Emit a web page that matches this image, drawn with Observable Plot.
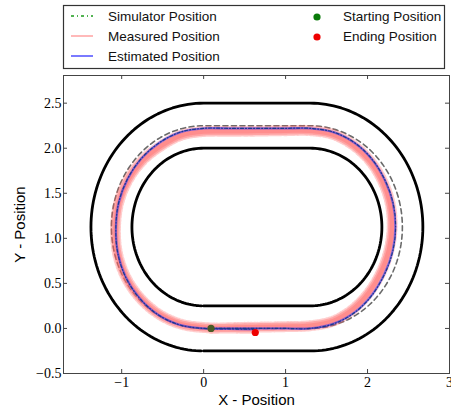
<!DOCTYPE html>
<html><head><meta charset="utf-8">
<script src="https://cdn.jsdelivr.net/npm/d3@7"></script>
<script src="https://cdn.jsdelivr.net/npm/@observablehq/plot@0.6"></script>
<style>
body{margin:0;background:#fff;}
#wrap{position:relative;width:451px;height:416px;overflow:hidden;}
#wrap svg{position:absolute;left:0;top:0;}
</style></head><body><div id="wrap"></div>
<script>
// ---------- data ----------
const xTicks = [-1, 0, 1, 2, 3];
const yTicks = [-0.5, 0, 0.5, 1, 1.5, 2, 2.5];
const xDomain = [-1.71, 3.0];
const yDomain = [-0.5, 2.807];
const xLabel = "X - Position";
const yLabel = "Y - Position";

// track geometry (stadium): arc centres, radii
const arcCentersX = [0, 1.3];
const arcCenterY = 1.125;
const outerRadius = 1.375;
const innerRadius = 0.875;
const centerRadius = 1.125;

// estimated position (blue)
const estimatedPosition = [
  [0.09, 0.0], [0.4, 0.0], [0.7, 0.0], [1.0, 0.0], [1.3, 0.0],
  [1.587, 0.053], [1.845, 0.181], [2.053, 0.372], [2.205, 0.603], [2.305, 0.856],
  [2.34, 1.125], [2.309, 1.395], [2.209, 1.65], [2.053, 1.878], [1.84, 2.06], [1.582, 2.178],
  [1.3, 2.22], [1.0, 2.22], [0.65, 2.22], [0.3, 2.22], [0.0, 2.22],
  [-0.282, 2.178], [-0.54, 2.06], [-0.76, 1.885], [-0.927, 1.66], [-1.034, 1.402],
  [-1.07, 1.125], [-1.048, 0.844], [-0.953, 0.575], [-0.785, 0.34], [-0.56, 0.155], [-0.291, 0.04],
  [0.0, 0.0], [0.3, -0.005], [0.62, -0.01]
];
// simulator position (green dash-dot, mostly under the estimate)
const simulatorPosition = [
  [0.09, 0.0], [0.4, 0.0], [0.7, 0.0], [1.0, 0.0], [1.3, 0.0],
  [1.588, 0.052], [1.847, 0.179], [2.055, 0.37], [2.207, 0.602], [2.307, 0.856],
  [2.342, 1.125], [2.31, 1.396], [2.21, 1.651], [2.054, 1.879], [1.841, 2.061], [1.582, 2.179],
  [1.3, 2.221], [1.0, 2.221], [0.65, 2.221], [0.3, 2.221], [0.0, 2.221],
  [-0.283, 2.179], [-0.541, 2.061], [-0.761, 1.886], [-0.928, 1.66], [-1.035, 1.402],
  [-1.071, 1.125], [-1.049, 0.843], [-0.954, 0.574], [-0.786, 0.339], [-0.56, 0.154], [-0.291, 0.039],
  [0.0, 0.0], [0.3, -0.005], [0.62, -0.01]
];
// measured position (pink band centre)
const measuredPosition = [
  [0.09, 0.0], [0.4, 0.01], [0.7, 0.015], [1.0, 0.02], [1.3, 0.03],
  [1.58, 0.082], [1.825, 0.216], [2.021, 0.404], [2.166, 0.625], [2.261, 0.868],
  [2.30, 1.125], [2.276, 1.386], [2.183, 1.635], [2.032, 1.857], [1.825, 2.034], [1.576, 2.154],
  [1.3, 2.195], [1.0, 2.195], [0.65, 2.19], [0.3, 2.188], [0.0, 2.185],
  [-0.273, 2.144], [-0.52, 2.026], [-0.742, 1.867], [-0.918, 1.655], [-1.034, 1.402],
  [-1.075, 1.125], [-1.053, 0.843], [-0.953, 0.575], [-0.781, 0.344], [-0.555, 0.164], [-0.288, 0.051],
  [0.0, 0.01], [0.3, 0.005], [0.63, 0.0]
];
const startPosition = [[0.09, 0.0]];
const endPosition = [[0.63, -0.045]];

const legendLines = ["Simulator Position", "Measured Position", "Estimated Position"];
const legendDots = ["Starting Position", "Ending Position"];

// ---------- geometry helper ----------
function trackLine(r, gapDeg) {
  const [cl, cr] = arcCentersX, cy = arcCenterY, rad = Math.PI / 180;
  const pts = [[cl, cy - r]];
  for (let a = -90; a <= 90; a += 2) pts.push([cr + r * Math.cos(a * rad), cy + r * Math.sin(a * rad)]);
  for (let a = 90; a <= 270 - gapDeg; a += 2) pts.push([cl + r * Math.cos(a * rad), cy + r * Math.sin(a * rad)]);
  const e = 270 - gapDeg;
  pts.push([cl + r * Math.cos(e * rad), cy + r * Math.sin(e * rad)]);
  return pts;
}
const outerTrack = trackLine(outerRadius, 1.3);
const innerTrack = trackLine(innerRadius, 1.8);
const centerTrack = trackLine(centerRadius, 0);

const W = 451, H = 416, mL = 63, mR = 2, mT = 75, mB = 43;
const frameW = W - mL - mR, frameH = H - mT - mB;
const X = d => d[0], Y = d => d[1];
const serif = "'Liberation Serif', 'DejaVu Serif', serif";
const sans = "'Liberation Sans', Arial, sans-serif";

const chart = Plot.plot({
  width: W, height: H,
  marginLeft: mL, marginRight: mR, marginTop: mT, marginBottom: mB,
  x: {domain: xDomain},
  y: {domain: yDomain},
  style: {background: "transparent", overflow: "visible"},
  marks: [
    Plot.line(outerTrack, {x: X, y: Y, stroke: "black", strokeWidth: 2.8, curve: "linear"}),
    Plot.line(innerTrack, {x: X, y: Y, stroke: "black", strokeWidth: 2.8, curve: "linear"}),
    Plot.line(centerTrack, {x: X, y: Y, stroke: "#6a6a6a", strokeWidth: 1.6, strokeDasharray: "5 3.5"}),
    // measured: noisy pink band
    Plot.line(measuredPosition, {x: X, y: Y, curve: "catmull-rom", stroke: "#ff5a5a", strokeWidth: 11, strokeOpacity: 0.3, strokeDasharray: "0.8 2.6 1.2 1.7 0.6 3.3 1.0 2.1"}),
    Plot.line(measuredPosition, {x: X, y: Y, curve: "catmull-rom", stroke: "#ff5a5a", strokeWidth: 8, strokeOpacity: 0.35, strokeDasharray: "1.1 1.4 0.7 2.2 1.5 1.1"}),
    Plot.line(measuredPosition, {x: X, y: Y, curve: "catmull-rom", stroke: "#ff7a7a", strokeWidth: 4.5, strokeOpacity: 0.55}),
    Plot.line(simulatorPosition, {x: X, y: Y, curve: "catmull-rom", stroke: "#004d00", strokeWidth: 1.2, strokeDasharray: "3 2 1 2"}),
    Plot.line(estimatedPosition, {x: X, y: Y, curve: "catmull-rom", stroke: "#2a2aff", strokeWidth: 2.3, strokeOpacity: 0.55}),
    Plot.dot(startPosition, {x: X, y: Y, r: 3.6, fill: "#4a5a26"}),
    Plot.dot(endPosition, {x: X, y: Y, r: 3.6, fill: "#ee0000"}),
    // frame & inward ticks
    Plot.frame({stroke: "#444", strokeWidth: 1}),
    Plot.tickX(xTicks, {x: d => d, insetTop: frameH - 4, stroke: "#444"}),
    Plot.tickX(xTicks, {x: d => d, insetBottom: frameH - 4, stroke: "#444"}),
    Plot.tickY(yTicks, {y: d => d, insetLeft: frameW - 4, stroke: "#444"}),
    Plot.tickY(yTicks, {y: d => d, insetRight: frameW - 4, stroke: "#444"}),
    Plot.axisX(xTicks, {tickSize: 0, tickPadding: 4, tickFormat: d3.format("d"), fontSize: 14, fontFamily: serif, label: null}),
    Plot.axisY(yTicks, {tickSize: 0, tickPadding: 2, tickFormat: d3.format(".1f"), fontSize: 14, fontFamily: serif, label: null}),
    Plot.text([xLabel], {frameAnchor: "bottom", dy: 31, fontSize: 15, fontFamily: sans, fill: "black"}),
    Plot.text([yLabel], {frameAnchor: "left", dx: -43, rotate: -90, textAnchor: "middle", fontSize: 15, fontFamily: sans, fill: "black"})
  ]
});
document.getElementById("wrap").appendChild(chart);

// ---------- legend ----------
const lg = d3.select("#wrap").append("svg").attr("width", W).attr("height", 75);
lg.append("rect").attr("x", 63.5).attr("y", 5.5).attr("width", 381).attr("height", 63)
  .attr("fill", "white").attr("stroke", "#333").attr("stroke-width", 1.2);
const lineStyles = [
  {stroke: "#1a9a1a", width: 1.3, dash: "3 3 1 3"},
  {stroke: "#ff8a8a", width: 1.2, dash: null},
  {stroke: "#7a7aff", width: 2, dash: null}
];
legendLines.forEach((t, i) => {
  const y = 16 + i * 20;
  const s = lineStyles[i];
  lg.append("line").attr("x1", 71).attr("x2", 93).attr("y1", y).attr("y2", y)
    .attr("stroke", s.stroke).attr("stroke-width", s.width).attr("stroke-dasharray", s.dash);
  lg.append("text").attr("x", 108).attr("y", y).attr("dy", "0.36em").attr("font-size", 13.5)
    .attr("font-family", sans).attr("fill", "#111").text(t);
});
const dotColors = ["#0a7a0a", "#ee0000"];
legendDots.forEach((t, i) => {
  const y = 16 + i * 20;
  lg.append("circle").attr("cx", 317).attr("cy", y + 1).attr("r", 3.6).attr("fill", dotColors[i]);
  lg.append("text").attr("x", 343).attr("y", y).attr("dy", "0.36em").attr("font-size", 13.5)
    .attr("font-family", sans).attr("fill", "#111").text(t);
});
</script></body></html>
